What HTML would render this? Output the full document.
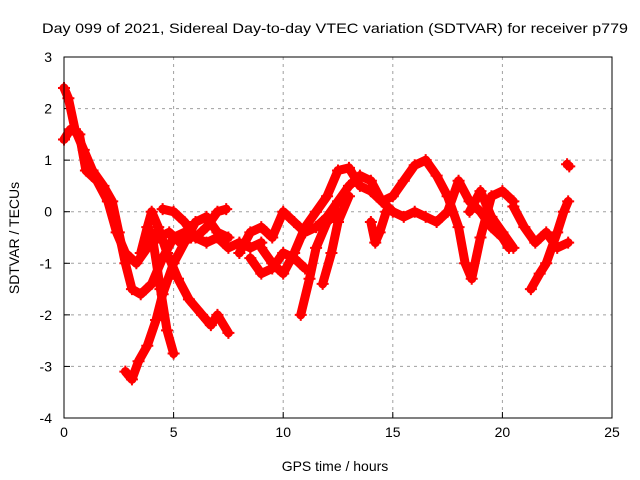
<!DOCTYPE html>
<html><head><meta charset="utf-8"><style>
body{margin:0;background:#fff}
svg{display:block;font-family:"Liberation Sans",sans-serif}
</style></head><body>
<svg id="c" width="640" height="480">
<text x="42" y="33" font-size="14" textLength="586" lengthAdjust="spacingAndGlyphs">Day 099 of 2021, Sidereal Day-to-day VTEC variation (SDTVAR) for receiver p779</text>
<text x="335" y="471" font-size="14" text-anchor="middle">GPS time / hours</text>
<text transform="translate(19,238) rotate(-90)" font-size="14" text-anchor="middle">SDTVAR / TECUs</text>
<g id="grid"></g>
<g id="ticks"></g>
<g id="marks"></g>
<rect x="64" y="57" width="548" height="361" fill="none" stroke="#000"/>
</svg>
<script>
const xTicks=[0,5,10,15,20,25];
const yTicks=[3,2,1,0,-1,-2,-3,-4];
const track1=[[0,2.4],[0.2,2.2],[0.5,1.6],[0.9,1.2],[1.3,0.8],[1.8,0.5],[2.2,0.2],[2.5,-0.4],[2.8,-1.0],[3.1,-1.5],[3.5,-1.6],[4,-1.4],[4.5,-0.9],[5,-0.5],[5.5,-0.4],[6,-0.5],[6.5,-0.6],[7,-0.5],[7.5,-0.7],[8,-0.6],[8.5,-0.7],[9,-0.6]];
const track2=[[0,1.4],[0.3,1.6],[0.7,1.5],[1,0.8],[1.5,0.6],[2,0.2],[2.4,-0.4],[2.8,-0.8],[3.3,-1.0],[3.8,-0.7],[4.3,-0.5],[4.8,-0.4],[5.3,-0.6],[5.8,-0.5]];
const track3=[[3.5,-0.8],[3.8,-0.3],[4,0.0],[4.3,-0.3],[4.7,-0.8],[5.2,-1.3],[5.7,-1.7],[6.3,-2.0],[6.7,-2.2],[7,-2.0],[7.5,-2.35]];
const track4=[[2.8,-3.1],[3.1,-3.25],[3.4,-2.9],[3.8,-2.6],[4.2,-2.1],[4.5,-1.6],[5,-1.0],[5.5,-0.6],[6,-0.2],[6.5,-0.1],[7,-0.4],[7.5,-0.5]];
const track5=[[4.5,0.05],[5,0.0],[5.5,-0.2],[6,-0.5],[6.5,-0.3],[7,0.0],[7.4,0.05]];
const track6=[[4,-0.4],[4.4,-1.5],[4.7,-2.3],[5,-2.75]];
const track7=[[9,-0.7],[9.5,-1.0],[10,-1.2],[10.5,-0.8],[11,-0.3],[11.5,0.0],[12,0.3],[12.5,0.8],[13,0.85],[13.5,0.5],[14,0.4],[14.5,0.2],[15,0.3],[15.5,0.6],[16,0.9],[16.5,1.0],[17,0.7],[17.5,0.3],[18,-0.3],[18.3,-1.0],[18.6,-1.3],[19,-0.5],[19.5,0.3],[20,0.4],[20.5,0.2]];
const track8=[[8,-0.8],[8.5,-0.4],[9,-0.3],[9.5,-0.5],[10,0.0],[10.5,-0.2],[11,-0.4],[11.5,-0.3],[12,-0.1],[12.5,0.2],[13,0.5],[13.5,0.7],[14,0.6],[14.5,0.2],[15,0.0],[15.5,-0.1],[16,0.0],[16.5,-0.1],[17,-0.2],[17.5,0.0],[18,0.6],[18.5,0.2],[19,0.0],[19.5,-0.3],[20,-0.5],[20.3,-0.7]];
const track9=[[10.8,-2.0],[11.2,-1.3],[11.5,-0.7],[12,-0.2],[12.5,0.0]];
const track10=[[11.8,-1.4],[12.2,-0.8],[12.5,-0.2],[13,0.3]];
const track11=[[8.5,-0.9],[9,-1.2],[9.5,-1.1],[10,-0.8],[10.5,-0.9],[11,-1.1]];
const track12=[[18.5,0.0],[19,0.4],[19.5,-0.1],[20,-0.4],[20.5,-0.7]];
const track13=[[20.5,0.1],[21,-0.3],[21.5,-0.6],[22,-0.4],[22.5,-0.7],[23,-0.6]];
const track14=[[21.3,-1.5],[21.7,-1.2],[22,-1.0],[22.5,-0.4],[22.8,0.0],[23,0.2]];
const track15=[[14,-0.2],[14.2,-0.6],[14.4,-0.4],[14.7,0.0]];
const track16=[[22.95,0.92],[23.05,0.88]];
const tracks=[track1,track2,track3,track4,track5,track6,track7,track8,track9,track10,track11,track12,track13,track14,track15,track16];
const NS='http://www.w3.org/2000/svg';
const X=t=>64+t*548/25, Y=v=>57+(3-v)*361/7;
const grid=document.getElementById('grid'),ticks=document.getElementById('ticks'),marks=document.getElementById('marks');
function mk(tag,attrs,parent){const e=document.createElementNS(NS,tag);for(const k in attrs)e.setAttribute(k,attrs[k]);parent.appendChild(e);return e;}
xTicks.forEach(t=>{
  if(t>0&&t<25){const g=mk('line',{x1:X(t),x2:X(t),y1:57,y2:418,stroke:'#a0a0a0','stroke-dasharray':'3,4'},grid);
  
  }
  const l=mk('text',{x:X(t),y:437,'font-size':14,'text-anchor':'middle'},ticks);l.textContent=t;
  
  
  mk('line',{x1:X(t),x2:X(t),y1:418,y2:412,stroke:'#000'},ticks);
});
yTicks.forEach(v=>{
  if(v<3&&v>-4){const g=mk('line',{x1:64,x2:612,y1:Y(v),y2:Y(v),stroke:'#a0a0a0','stroke-dasharray':'3,4'},grid);
  
  }
  const l=mk('text',{x:52,y:Y(v)+5,'font-size':14,'text-anchor':'end'},ticks);l.textContent=v;
  
  
  mk('line',{x1:64,x2:70,y1:Y(v),y2:Y(v),stroke:'#000'},ticks);
});
tracks.forEach(tr=>{
  const p=mk('polyline',{points:tr.map(d=>X(d[0])+','+Y(d[1])).join(' '),fill:'none',stroke:'#ff0000','stroke-width':9,'stroke-linejoin':'round','stroke-linecap':'round'},marks);
  
  
  tr.forEach(d=>{const x=X(d[0]),y=Y(d[1]);
    const m=mk('path',{d:`M${x-6},${y}h12M${x},${y-6}v12`,stroke:'#ff0000','stroke-width':2},marks);
    
    });
});
</script>
</body></html>
